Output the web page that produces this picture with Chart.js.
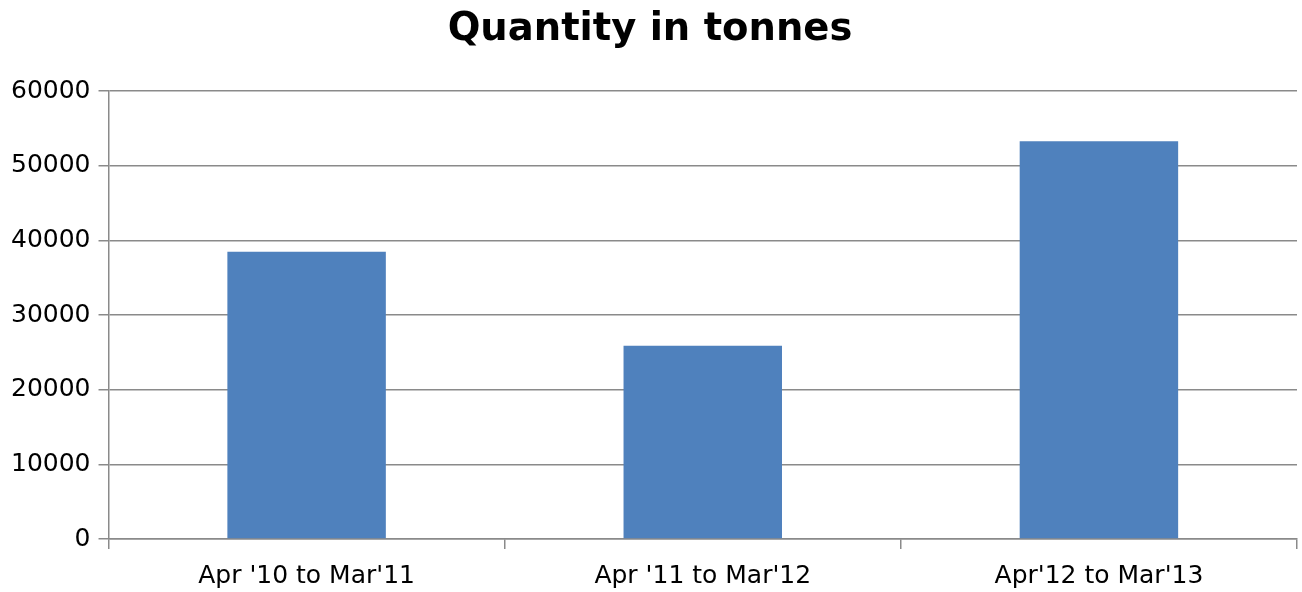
<!DOCTYPE html>
<html>
<head>
<meta charset="utf-8">
<script src="https://cdn.jsdelivr.net/npm/chart.js@4/dist/chart.umd.min.js"></script>
<style>
  html, body { margin: 0; padding: 0; background: #fff; }
  #wrap { width: 1302px; height: 592px; }
</style>
</head>
<body>
<div id="wrap"><canvas id="chart" width="1302" height="592"></canvas></div>
<script>
const categories = ["Apr '10 to Mar'11", "Apr '11 to Mar'12", "Apr'12 to Mar'13"];
const quantity = [38500, 25900, 53300];
const yTicks = [0, 10000, 20000, 30000, 40000, 50000, 60000];

const gridColor = '#8a8a8a';

new Chart(document.getElementById('chart'), {
    type: 'bar',
    data: {
        labels: categories,
        datasets: [{
            label: 'Quantity in tonnes',
            data: quantity,
            backgroundColor: '#4F81BD',
            borderWidth: 0,
            barPercentage: 0.4,
            categoryPercentage: 1.0
        }]
    },
    options: {
        responsive: false,
        animation: false,
        layout: { padding: { left: 3, right: 5, top: 7, bottom: -11 } },
        plugins: {
            legend: { display: false },
            tooltip: { enabled: false },
            title: {
                display: true,
                text: 'Quantity in tonnes',
                color: '#000',
                font: { family: 'DejaVu Sans', size: 38.5, weight: 'bold' },
                padding: { top: 0, bottom: 38 }
            }
        },
        scales: {
            x: {
                grid: {
                    offset: true,
                    drawOnChartArea: false,
                    drawTicks: true,
                    tickLength: 10,
                    color: gridColor,
                    lineWidth: 1.5
                },
                border: { color: gridColor, width: 1.5 },
                ticks: {
                    color: '#000',
                    font: { family: 'DejaVu Sans', size: 25 },
                    padding: 12,
                    maxRotation: 0
                }
            },
            y: {
                min: 0,
                max: 60000,
                afterBuildTicks: (axis) => { axis.ticks = yTicks.map(v => ({ value: v })); },
                grid: {
                    color: gridColor,
                    lineWidth: 1.5,
                    tickLength: 10
                },
                border: { color: gridColor, width: 1.5 },
                ticks: {
                    color: '#000',
                    font: { family: 'DejaVu Sans', size: 25 },
                    padding: 8,
                    callback: (v) => String(v)
                }
            }
        }
    }
});
</script>
</body>
</html>
